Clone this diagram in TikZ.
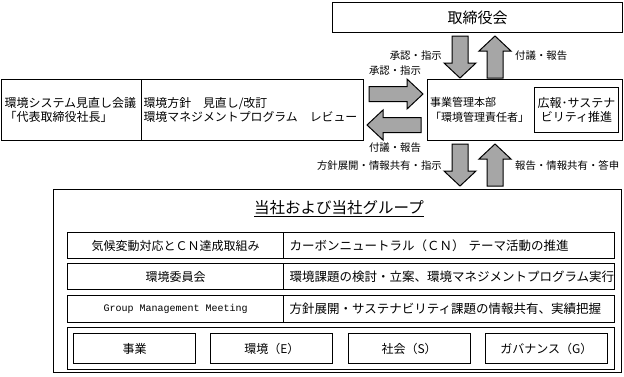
\documentclass[tikz,border=0pt]{standalone}
\usepackage{fontspec}
\setmainfont{Noto Sans CJK JP}
\newfontfamily\monofont{Liberation Mono}
\tikzset{
  box/.style={draw, line width=1.1pt, inner sep=0pt, anchor=north west},
  barrow/.style={fill=black!35, draw=black, line width=1pt, line join=miter},
  lbl/.style={font=\fontsize{10.4}{12}\selectfont, inner sep=1pt},
  fA/.style={font=\fontsize{12}{14}\selectfont},
  fB/.style={font=\fontsize{12.5}{14}\selectfont},
}
\newcommand\blkdown[3]{\filldraw[barrow] (#1-8,#2) -- (#1+8,#2) -- (#1+8,#3-15) -- (#1+16,#3-15) -- (#1,#3) -- (#1-16,#3-15) -- (#1-8,#3-15) -- cycle;}
\newcommand\blkup[3]{\filldraw[barrow] (#1-8,#3) -- (#1+8,#3) -- (#1+8,#2+15) -- (#1+16,#2+15) -- (#1,#2) -- (#1-16,#2+15) -- (#1-8,#2+15) -- cycle;}
\newcommand\blkright[3]{\filldraw[barrow] (#1,#3-7.5) -- (#2-16,#3-7.5) -- (#2-16,#3-15) -- (#2,#3) -- (#2-16,#3+15) -- (#2-16,#3+7.5) -- (#1,#3+7.5) -- cycle;}
\newcommand\blkleft[3]{\filldraw[barrow] (#1,#3-7.5) -- (#2+16,#3-7.5) -- (#2+16,#3-15) -- (#2,#3) -- (#2+16,#3+15) -- (#2+16,#3+7.5) -- (#1,#3+7.5) -- cycle;}
\begin{document}
\begin{tikzpicture}[x=1pt,y=-1pt]
\useasboundingbox (0,0) rectangle (624,376);
% board
\node[box, minimum width=290pt, minimum height=30pt, font=\fontsize{15}{18}\selectfont] (board) at (332,2) {取締役会};
% left box
\node[box, fA, minimum width=140pt, minimum height=61pt, text width=134pt, inner xsep=3pt, align=left] (lbA) at (1,79) {環境システム見直し会議\\「代表取締役社長」};
\node[box, minimum width=222pt, minimum height=61pt, text width=218pt, inner xsep=2pt, align=left, font=\fontsize{11.9}{14}\selectfont] (lbB) at (141,79) {環境方針　見直し/改訂\\環境マネジメントプログラム　レビュー};
% right box
\node[box, minimum width=195pt, minimum height=61pt] (hq) at (427,79) {};
\node[anchor=west, align=left, inner sep=0pt, font=\fontsize{11}{14.5}\selectfont] (hqt) at (430,110) {事業管理本部\\「環境管理責任者」};
\node[box, fA, minimum width=84pt, minimum height=45pt, align=center, line width=1pt] (pr) at (534,87) {広報･サステナ\\ビリティ推進};
% block arrows
\blkdown{460}{36}{78}
\blkup{495}{36}{78}
\blkright{369}{423}{94}
\blkleft{421}{367}{125}
\blkdown{460}{144}{186}
\blkup{495}{144}{186}
% labels
\node[lbl, anchor=east] (l1) at (443,56) {承認・指示};
\node[lbl, anchor=west] (l2) at (514,56) {付議・報告};
\node[lbl] (l3) at (395,71) {承認・指示};
\node[lbl] (l4) at (395,148) {付議・報告};
\node[lbl, anchor=east] (l5) at (443,166) {方針展開・情報共有・指示};
\node[lbl, anchor=west] (l6) at (514,166) {報告・情報共有・答申};
% group box
\node[box, line width=1.2pt, minimum width=568.5pt, minimum height=183pt] (grpbox) at (52.5,189) {};
\node[font=\fontsize{15.5}{18}\selectfont, inner sep=0pt] (grp) at (339,209) {\underline{当社および当社グループ}};
% rows
\node[box, fA, minimum width=216pt, minimum height=26pt] (r1a) at (67,232) {気候変動対応とＣＮ達成取組み};
\node[box, fB, minimum width=331pt, minimum height=26pt, text width=319pt, inner xsep=6pt, align=left] (r1b) at (283,232) {カーボンニュートラル（ＣＮ） テーマ活動の推進};
\node[box, fA, minimum width=216pt, minimum height=26pt] (r2a) at (67,263) {環境委員会};
\node[box, fB, minimum width=331pt, minimum height=26pt, text width=319pt, inner xsep=6pt, align=left] (r2b) at (283,263) {環境課題の検討・立案、環境マネジメントプログラム実行};
\node[box, minimum width=216pt, minimum height=27pt, font=\monofont\fontsize{10}{12}\selectfont] (r3a) at (67,295) {Group Management Meeting};
\node[box, fB, minimum width=331pt, minimum height=27pt, text width=319pt, inner xsep=6pt, align=left] (r3b) at (283,295) {方針展開・サステナビリティ課題の情報共有、実績把握};
\node[box, minimum width=547pt, minimum height=42pt] (r4) at (67,327) {};
\node[box, fA, minimum width=122pt, minimum height=30pt] (c1) at (73,333) {事業};
\node[box, fA, minimum width=122pt, minimum height=30pt] (c2) at (210.3,333) {環境（E）};
\node[box, fA, minimum width=122pt, minimum height=30pt] (c3) at (347.6,333) {社会（S）};
\node[box, fA, minimum width=122pt, minimum height=30pt] (c4) at (484.9,333) {ガバナンス（G）};
\end{tikzpicture}
\end{document}
